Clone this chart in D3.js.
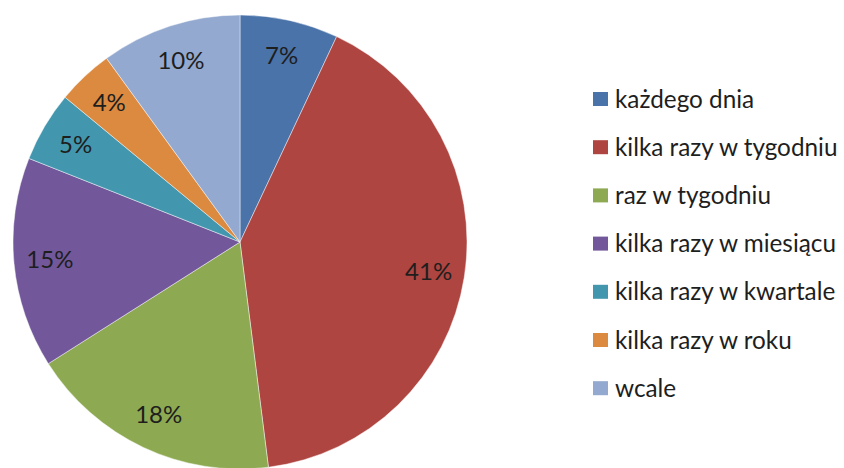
<!DOCTYPE html>
<html>
<head>
<meta charset="utf-8">
<script src="https://cdn.jsdelivr.net/npm/d3@7"></script>
<style>
  body { margin: 0; background: #fff; }
  svg text { font-family: Lato, "Open Sans", sans-serif; fill: #1e1e1e; }
</style>
</head>
<body>
<div id="chart"></div>
<script>
// data
const categories = ["każdego dnia", "kilka razy w tygodniu", "raz w tygodniu",
    "kilka razy w miesiącu", "kilka razy w kwartale", "kilka razy w roku", "wcale"];
const shares = [7, 41, 18, 15, 5, 4, 10];
const colors = ["#4A73AA", "#AE4541", "#8DAA53", "#72589A", "#4297AF", "#DB8A40", "#93A9CF"];

const width = 844, height = 468;
const cx = 240, cy = 242, radius = 227;

const svg = d3.select("#chart").append("svg")
    .attr("width", width)
    .attr("height", height);

const data = categories.map((c, i) => ({name: c, value: shares[i], color: colors[i]}));

const pie = d3.pie()
    .sort(null)
    .value(d => d.value);

const arc = d3.arc()
    .innerRadius(0)
    .outerRadius(radius);

const labelArc = d3.arc()
    .innerRadius(191)
    .outerRadius(191);

const g = svg.append("g")
    .attr("transform", `translate(${cx},${cy})`);

const slices = g.selectAll(".slice")
    .data(pie(data))
    .join("g")
    .attr("class", "slice");

slices.append("path")
    .attr("d", arc)
    .attr("fill", d => d.data.color)
    .attr("stroke", "rgba(255,255,255,0.45)")
    .attr("stroke-width", 1);

slices.append("text")
    .attr("transform", d => `translate(${labelArc.centroid(d)})`)
    .attr("text-anchor", "middle")
    .attr("dy", "0.35em")
    .style("font-size", "24px")
    .text(d => d.data.value + "%");

// legend
const legend = svg.append("g")
    .attr("transform", "translate(593,99)");

const rows = legend.selectAll(".row")
    .data(data)
    .join("g")
    .attr("class", "row")
    .attr("transform", (d, i) => `translate(0,${i * 48.2})`);

rows.append("rect")
    .attr("x", 0)
    .attr("y", -7)
    .attr("width", 15)
    .attr("height", 14)
    .attr("fill", d => d.color);

rows.append("text")
    .attr("x", 22)
    .attr("dy", "0.35em")
    .style("font-size", "24.3px")
    .text(d => d.name);
</script>
</body>
</html>
